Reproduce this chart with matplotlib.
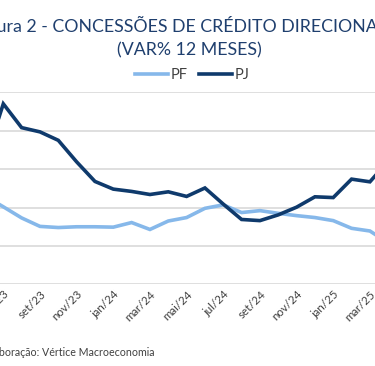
import matplotlib
matplotlib.use("Agg")
import matplotlib.pyplot as plt

# Monthly 12-month growth of directed credit concessions (% y/y), jun/23 - abr/25
months = ["jun/23", "jul/23", "ago/23", "set/23", "out/23", "nov/23", "dez/23",
          "jan/24", "fev/24", "mar/24", "abr/24", "mai/24", "jun/24", "jul/24",
          "ago/24", "set/24", "out/24", "nov/24", "dez/24", "jan/25", "fev/25",
          "mar/25", "abr/25"]
pf = [3.0, 0.2, -2.7, -4.9, -5.2, -5.0, -5.0, -5.1, -3.9, -5.7, -3.5, -2.6,
      -0.2, 0.7, -1.3, -0.8, -1.5, -2.1, -2.6, -3.4, -5.4, -6.1, -9.2]
pj = [12.1, 27.0, 20.8, 19.7, 17.5, 11.9, 6.8, 4.8, 4.2, 3.4, 4.1, 2.9,
      5.1, 0.9, -3.1, -3.4, -1.9, 0.1, 2.8, 2.6, 7.4, 6.7, 12.1]
tick_labels = ["jul/23", "set/23", "nov/23", "jan/24", "mar/24", "mai/24",
               "jul/24", "set/24", "nov/24", "jan/25", "mar/25", "mai/25"]
yticks = [-20, -10, 0, 10, 20, 30]

FONT = "Lato"
PF_COLOR = "#86b8ea"
PJ_COLOR = "#0f3a6c"
TITLE_COLOR = "#1f3f6e"
TEXT_GRAY = "#404040"

all_labels = months + ["mai/25"]
x = list(range(len(months)))
tick_pos = [all_labels.index(lbl) for lbl in tick_labels]

fig = plt.figure(figsize=(3.75, 3.66), dpi=100)
# the reference is a crop of a wider chart, so the axes run past the figure edges
ax = fig.add_axes([-75 / 375, 81.6 / 366, 525 / 375, 192.1 / 366])

ax.plot(x, pf, color=PF_COLOR, lw=2.6, label="PF", solid_joinstyle="miter", zorder=3)
ax.plot(x, pj, color=PJ_COLOR, lw=2.6, label="PJ", solid_joinstyle="miter", zorder=4)

ax.set_xlim(-3.272, 25.37)
ax.set_ylim(yticks[0], yticks[-1])
ax.set_yticks(yticks)
ax.yaxis.grid(True, color="#d9d9d9", lw=1.2, zorder=1)
ax.tick_params(axis="y", length=0, labelleft=False)
for s in ax.spines.values():
    s.set_visible(False)

ax.set_xticks(tick_pos)
ax.set_xticklabels(tick_labels, rotation=45, ha="right", va="top",
                   rotation_mode="anchor", fontsize=8.3, color=TEXT_GRAY,
                   family=FONT)
ax.tick_params(axis="x", length=0, pad=3)

fig.text(189 / 375, 0.930, "Figura 2 - CONCESSÕES DE CRÉDITO DIRECIONADO",
         ha="center", va="center", fontsize=12.8, color=TITLE_COLOR, family=FONT)
fig.text(189 / 375, 0.862, "(VAR% 12 MESES)", ha="center", va="center",
         fontsize=12.8, color=TITLE_COLOR, family=FONT)

leg = fig.legend(loc="center", bbox_to_anchor=(192 / 375, 0.795), ncol=2,
                 frameon=False, handlelength=2.3, handletextpad=0.15,
                 columnspacing=0.8, prop={"family": FONT, "size": 10.5})
for t in leg.get_texts():
    t.set_color(TEXT_GRAY)

fig.text(154 / 375, (366 - 353) / 366,
         "Fonte: BCB. Elaboração: Vértice Macroeconomia",
         ha="right", va="center", fontsize=7.7, color=TEXT_GRAY, family=FONT)

fig.savefig("out.png", dpi=100)
